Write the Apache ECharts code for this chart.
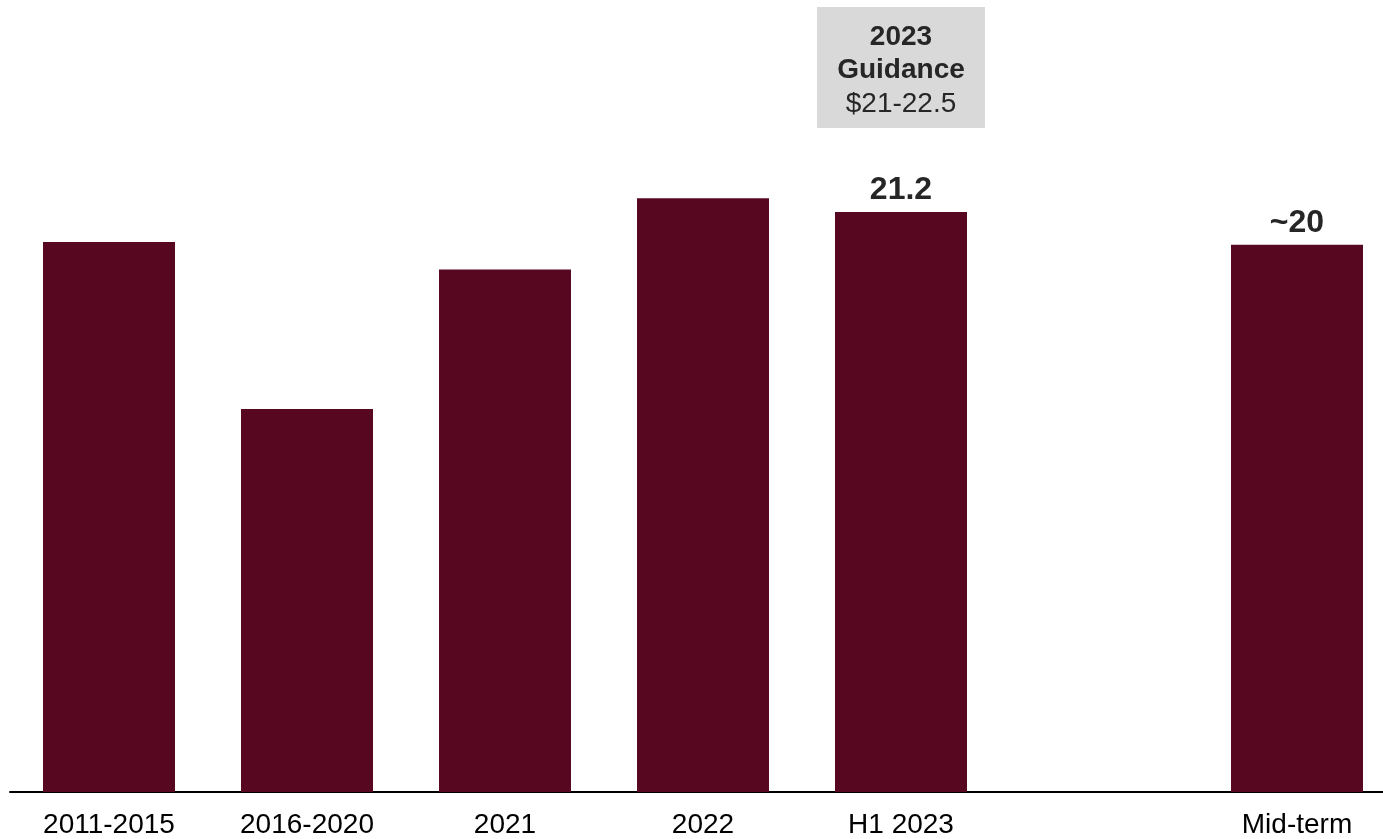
<!DOCTYPE html>
<html>
<head>
<meta charset="utf-8">
<script src="https://cdn.jsdelivr.net/npm/echarts@6/dist/echarts.min.js"></script>
<style>
html,body{margin:0;padding:0;background:#fff;}
#main{width:1383px;height:839px;}
</style>
</head>
<body>
<div id="main"></div>
<script>
const categories = ['2011-2015', '2016-2020', '2021', '2022', 'H1 2023', '', 'Mid-term'];
const values = [20.1, 14.0, 19.1, 21.7, 21.2, null, 20.0];
const valueLabels = ['', '', '', '', '21.2', '', '~20'];
const guidanceLines = ['2023', 'Guidance', '$21-22.5'];
const guidanceCategory = 'H1 2023';

const FONT = '"Liberation Sans", Arial, sans-serif';
const chart = echarts.init(document.getElementById('main'), null, {renderer: 'canvas'});

const option = {
  animation: false,
  backgroundColor: '#ffffff',
  grid: {left: 10, width: 1386, top: 26, bottom: 47, containLabel: false, outerBoundsMode: 'none'},
  xAxis: {
    type: 'category',
    data: categories,
    axisLine: {show: true, lineStyle: {color: '#000000', width: 2}},
    axisTick: {show: false},
    axisLabel: {color: '#000000', fontSize: 28, fontFamily: FONT, margin: 19, interval: 0, hideOverlap: false}
  },
  yAxis: {
    type: 'value', min: 0, max: 28,
    show: false,
    splitLine: {show: false}
  },
  series: [{
    type: 'bar',
    data: values,
    barWidth: 132,
    itemStyle: {color: '#570820'},
    label: {
      show: true,
      position: 'top',
      distance: 6,
      fontSize: 32,
      fontWeight: 'bold',
      color: '#262626',
      fontFamily: FONT,
      formatter: p => valueLabels[p.dataIndex]
    }
  }]
};
chart.setOption(option);

const cx = chart.convertToPixel({xAxisIndex: 0}, guidanceCategory);
chart.setOption({
  graphic: [{
    type: 'group',
    children: [
      {type: 'rect', shape: {x: cx - 84, y: 7, width: 168, height: 121}, style: {fill: '#d9d9d9'}},
      {type: 'text', x: cx, y: 37, style: {text: guidanceLines[0], font: 'bold 28px ' + FONT, fill: '#262626', align: 'center', verticalAlign: 'middle'}},
      {type: 'text', x: cx, y: 70, style: {text: guidanceLines[1], font: 'bold 28px ' + FONT, fill: '#262626', align: 'center', verticalAlign: 'middle'}},
      {type: 'text', x: cx, y: 104, style: {text: guidanceLines[2], font: '28px ' + FONT, fill: '#262626', align: 'center', verticalAlign: 'middle'}}
    ]
  }]
});
</script>
</body>
</html>
